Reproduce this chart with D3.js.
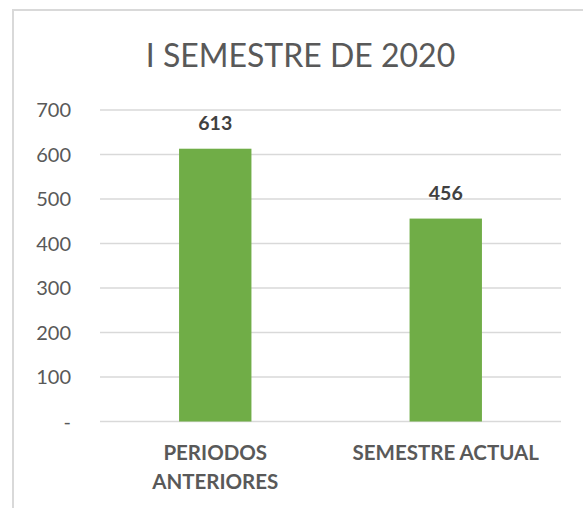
<!DOCTYPE html>
<html>
<head>
<meta charset="utf-8">
<title>I semestre de 2020</title>
<script src="https://cdn.jsdelivr.net/npm/d3@7"></script>
<style>
  body { margin: 0; background: #fff; }
  text { font-family: Lato, "Open Sans", sans-serif; }
</style>
</head>
<body>
<script>
// datos del grafico
var categorias = [["PERIODOS", "ANTERIORES"], ["SEMESTRE ACTUAL"]];
var valores = [613, 456];
var ticks = [0, 100, 200, 300, 400, 500, 600, 700];
var titulo = "I SEMESTRE DE 2020";

var w = 583, h = 508;
var svg = d3.select("body").append("svg").attr("width", w).attr("height", h);

// marco del grafico
svg.append("path")
  .attr("d", "M13,508 V10 H583")
  .attr("fill", "none")
  .attr("stroke", "#d9d9d9")
  .attr("stroke-width", 2);

var x = d3.scaleBand()
  .domain(d3.range(valores.length))
  .range([100, 561])
  .paddingInner(0.686)
  .paddingOuter(0.343);

var y = d3.scaleLinear().domain([0, 700]).range([421.5, 110]);

// lineas de cuadricula
svg.selectAll(".grid")
  .data(ticks)
  .enter().append("line")
  .attr("class", "grid")
  .attr("x1", 100).attr("x2", 561)
  .attr("y1", function(d) { return y(d); })
  .attr("y2", function(d) { return y(d); })
  .attr("stroke", "#d9d9d9")
  .attr("stroke-width", 1.3);

// etiquetas eje y
svg.selectAll(".ytick")
  .data(ticks)
  .enter().append("text")
  .attr("class", "ytick")
  .attr("x", 71)
  .attr("y", function(d) { return y(d) + 7; })
  .attr("text-anchor", "end")
  .attr("fill", "#595959")
  .style("font-size", "20px")
  .text(function(d) { return d == 0 ? "-" : d; });

// barras
svg.selectAll(".bar")
  .data(valores)
  .enter().append("rect")
  .attr("class", "bar")
  .attr("x", function(d, i) { return x(i); })
  .attr("width", x.bandwidth())
  .attr("y", function(d) { return y(d); })
  .attr("height", function(d) { return y(0) - y(d); })
  .attr("fill", "#70ad47");

// etiquetas de valor
svg.selectAll(".val")
  .data(valores)
  .enter().append("text")
  .attr("class", "val")
  .attr("x", function(d, i) { return x(i) + x.bandwidth() / 2; })
  .attr("y", function(d) { return y(d) - 19; })
  .attr("text-anchor", "middle")
  .attr("fill", "#404040")
  .style("font-size", "19.5px")
  .style("font-weight", "bold")
  .text(function(d) { return d; });

// etiquetas de categoria
var cat = svg.selectAll(".cat")
  .data(categorias)
  .enter().append("text")
  .attr("class", "cat")
  .attr("text-anchor", "middle")
  .attr("fill", "#595959")
  .style("font-size", "20.5px")
  .style("font-weight", "bold");

cat.selectAll("tspan")
  .data(function(d, i) { return d.map(function(t) { return {t: t, i: i}; }); })
  .enter().append("tspan")
  .attr("x", function(d) { return x(d.i) + x.bandwidth() / 2; })
  .attr("y", function(d, j) { return 460 + j * 29; })
  .text(function(d) { return d.t; });

// titulo
svg.append("text")
  .attr("x", 300.5)
  .attr("y", 67)
  .attr("text-anchor", "middle")
  .attr("fill", "#595959")
  .style("font-size", "32px")
  .text(titulo);
</script>
</body>
</html>
